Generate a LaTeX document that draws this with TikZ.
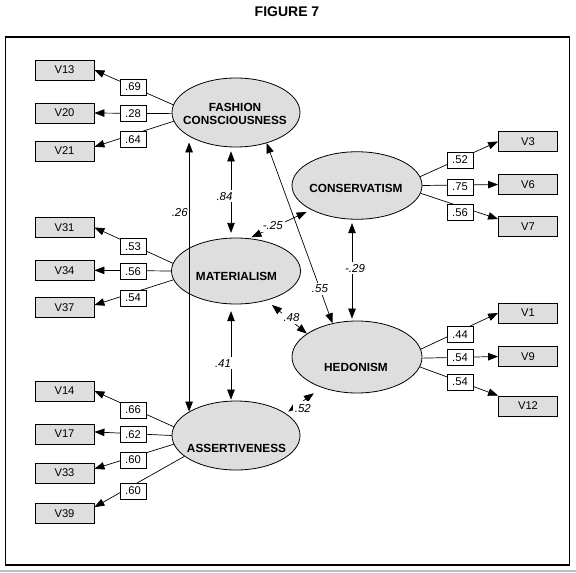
\documentclass[tikz,border=0pt]{standalone}
\usepackage{fontspec}
\setmainfont{Liberation Sans}
\usetikzlibrary{arrows.meta,shapes.geometric}
\definecolor{boxgray}{RGB}{222,222,222}
\definecolor{rulegray}{RGB}{192,192,192}
\begin{document}
\begin{tikzpicture}[x=1pt,y=-1pt,
  latent/.style={draw,ellipse,fill=boxgray,line width=0.8pt,inner sep=0pt},
  fname/.style={font=\fontsize{11.8}{13}\selectfont\bfseries,align=center,inner sep=0pt},
  indic/.style={draw,fill=boxgray,line width=0.8pt,minimum width=59pt,minimum height=20pt,inner sep=0pt,font=\fontsize{11.2}{12}\selectfont},
  loading/.style={draw,fill=white,line width=0.8pt,minimum width=26pt,minimum height=16pt,inner sep=0pt,font=\fontsize{11.2}{12}\selectfont},
  coef/.style={fill=white,inner sep=2pt,font=\fontsize{11.5}{12}\selectfont\itshape},
  oneway/.style={line width=0.7pt,-{Triangle[length=10pt,width=7.5pt]}},
  twoway/.style={line width=0.7pt,{Triangle[length=10pt,width=7.5pt]}-{Triangle[length=10pt,width=7.5pt]}}]
\useasboundingbox (0,0) rectangle (576,573);
\node[font=\fontsize{14}{16}\selectfont\bfseries] (title) at (287,12) {FIGURE 7};
\draw[line width=1.3pt] (5.5,37) rectangle (569.5,565);
\draw[rulegray,line width=2pt] (0,571) -- (576,571);
% factors
\node[latent,minimum width=128pt,minimum height=69pt] (fc) at (236,112.5) {};
\node[latent,minimum width=130pt,minimum height=67.5pt] (con) at (357,185.5) {};
\node[latent,minimum width=129pt,minimum height=66pt] (mat) at (236,271) {};
\node[latent,minimum width=130pt,minimum height=72pt] (hed) at (357,357) {};
\node[latent,minimum width=128pt,minimum height=69pt] (ass) at (236,435.5) {};
\node[fname] (fcname) at (235,114) {FASHION\\CONSCIOUSNESS};
\node[fname] (conname) at (356,188) {CONSERVATISM};
\node[fname] (matname) at (236.5,276) {MATERIALISM};
\node[fname] (hedname) at (356,367.5) {HEDONISM};
\node[fname] (assname) at (236.5,448) {ASSERTIVENESS};
% observed variables
\node[indic] (v13) at (64.5,70) {V13};
\node[indic] (v20) at (64.5,113) {V20};
\node[indic] (v21) at (64.5,151) {V21};
\node[indic] (v31) at (64.5,227.5) {V31};
\node[indic] (v34) at (64.5,270.3) {V34};
\node[indic] (v37) at (64.5,307.7) {V37};
\node[indic] (v14) at (64.5,391) {V14};
\node[indic] (v17) at (64.5,434) {V17};
\node[indic] (v33) at (64.5,473) {V33};
\node[indic] (v39) at (64.5,513.5) {V39};
\node[indic] (v3) at (528,141.5) {V3};
\node[indic] (v6) at (528,184.5) {V6};
\node[indic] (v7) at (528,226.5) {V7};
\node[indic] (v1) at (528,313) {V1};
\node[indic] (v9) at (528,356.5) {V9};
\node[indic] (v12) at (528,406) {V12};
% measurement paths
\draw[oneway] (fc.173) -- (v13.east);
\draw[oneway] (fc.181) -- (v20.east);
\draw[oneway] (fc.188) -- (v21.8);
\draw[oneway] (mat.173) -- (v31.east);
\draw[oneway] (mat.180) -- (v34.east);
\draw[oneway] (mat.188) -- (v37.5);
\draw[oneway] (ass.172) -- (v14.east);
\draw[oneway] (ass.180) -- (v17.4);
\draw[oneway] (ass.188) -- (v33.8);
\draw[oneway] (ass.202) -- (v39.12);
\draw[oneway] (con.8) -- (v3.west);
\draw[oneway] (con.0) -- (v6.west);
\draw[oneway] (con.353) -- (v7.166);
\draw[oneway] (hed.7) -- (v1.west);
\draw[oneway] (hed.359) -- (v9.west);
\draw[oneway] (hed.351) -- (v12.north west);
% correlations
\draw[twoway,shorten <=4pt,shorten >=4.7pt] ([xshift=-5pt]fc.south) -- node[coef,pos=0.54,xshift=-6.5pt] {.84} ([xshift=-5pt]mat.north);
\draw[twoway,shorten <=6.7pt,shorten >=1pt] ([xshift=-5pt]mat.south) -- node[coef,pos=0.61,xshift=-8pt] {.41} ([xshift=-5pt]ass.north);
\draw[twoway,shorten <=6pt] (fc.207) -- node[coef,fill=none,pos=0.275,anchor=east,inner sep=1pt] {.26} (ass.153);
\draw[twoway,shorten <=3.5pt,shorten >=2pt] ([xshift=-5pt]con.south) -- node[coef,pos=0.48,xshift=3pt] {-.29} ([xshift=-5pt]hed.north);
\draw[twoway] (fc.315) -- node[coef,pos=0.81] {.55} (hed.126);
\draw[twoway,shorten <=2.5pt,shorten >=5pt] (mat.68) -- node[coef,pos=0.38,yshift=2pt] {-.25} (con.208);
\draw[twoway,shorten <=7pt] (mat.316) -- node[coef,pos=0.62,yshift=3pt] {.48} (hed.155);
\draw[twoway,shorten <=3pt,shorten >=9.7pt] (ass.24) -- node[coef,pos=0.42,xshift=2pt,yshift=-5.5pt,inner ysep=3pt] {.52} (hed.221);
% loadings
\node[loading] (l13) at (133,87) {.69};
\node[loading] (l20) at (133,113.5) {.28};
\node[loading] (l21) at (133,139.5) {.64};
\node[loading] (l31) at (133,246.7) {.53};
\node[loading] (l34) at (133,271.7) {.56};
\node[loading] (l37) at (133,298) {.54};
\node[loading] (l14) at (133,410) {.66};
\node[loading] (l17) at (133,434.5) {.62};
\node[loading] (l33) at (133,460) {.60};
\node[loading] (l39) at (133,491) {.60};
\node[loading] (l3) at (460,160) {.52};
\node[loading] (l6) at (460,187) {.75};
\node[loading] (l7) at (460,212.5) {.56};
\node[loading] (l1) at (460,334.5) {.44};
\node[loading] (l9) at (460,357.5) {.54};
\node[loading] (l12) at (460,382) {.54};
\end{tikzpicture}
\end{document}
